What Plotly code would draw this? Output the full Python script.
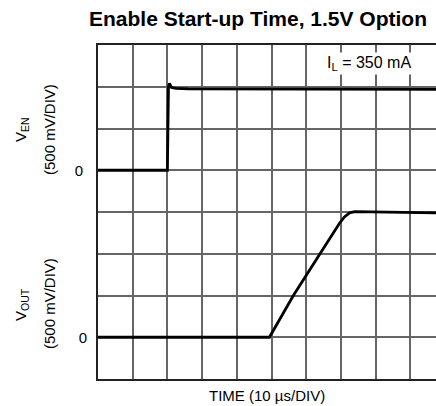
import plotly.graph_objects as go

# Data (time in microseconds, voltage in volts)
ven_time = [0, 10, 20.0, 20.3, 20.6, 21.2, 22.5, 26, 40, 60, 80, 97.5]
ven_volts = [0, 0.0, 0.0, 1.0, 1.04, 0.99, 0.98, 0.975, 0.972, 0.97, 0.97, 0.968]

vout_time = [0, 20, 40, 49.4, 56.3, 64.0, 69.5, 71.0, 72.5, 74.0, 80, 90, 97.5]
vout_volts = [0, 0.0, 0.0, 0.0, 0.5, 1.0, 1.36, 1.44, 1.49, 1.505, 1.5, 1.495, 1.49]

title_text = "Enable Start-up Time, 1.5V Option"
xlabel = "TIME (10 µs/DIV)"
ven_label = "V<sub>EN</sub>"
vout_label = "V<sub>OUT</sub>"
scale_label = "(500 mV/DIV)"
load_label = "I<sub>L</sub> = 350 mA"

FONT = "Liberation Sans, Arial, sans-serif"

fig = go.Figure()
fig.add_trace(go.Scatter(x=ven_time, y=ven_volts, mode="lines",
                         line=dict(color="black", width=2.8), yaxis="y", showlegend=False))
fig.add_trace(go.Scatter(x=vout_time, y=vout_volts, mode="lines",
                         line=dict(color="black", width=2.8), yaxis="y2", showlegend=False))

grid_vals = [-2.5 + 0.5 * i for i in range(9)]
fig.update_layout(
    width=436, height=406,
    margin=dict(l=98, r=0, t=45, b=27),
    paper_bgcolor="white", plot_bgcolor="white",
    font=dict(family=FONT, color="black", size=15),
    xaxis=dict(range=[0, 97.4], tickvals=[10 * i for i in range(10)], showticklabels=False,
               showgrid=True, gridcolor="#666", gridwidth=1.5, zeroline=False,
               showline=True, linecolor="#222", linewidth=2, mirror=True, ticks=""),
    yaxis=dict(range=[-2.5, 1.5], tickvals=grid_vals,
               ticktext=["0" if v == 0 else "" for v in grid_vals],
               showgrid=True, gridcolor="#666", gridwidth=1.5, zeroline=False,
               showline=True, linecolor="#222", linewidth=2, ticks="",
               ticklabelstandoff=10, tickfont=dict(size=15)),
    yaxis2=dict(range=[-0.5, 3.5], overlaying="y", side="left", tickvals=[0], ticktext=["0"],
                showgrid=False, zeroline=False, showline=False, ticks="",
                ticklabelstandoff=10, tickfont=dict(size=15)),
    showlegend=False,
)

fig.add_annotation(text="<b>" + title_text + "</b>", xref="paper", yref="paper",
                   x=(258 - 98) / 338, y=1 + (45 - 19) / 334, xanchor="center", yanchor="middle",
                   showarrow=False, font=dict(size=21, family=FONT))
fig.add_annotation(text=xlabel, xref="paper", yref="paper",
                   x=(267 - 98) / 338, y=-(395 - 379) / 334, xanchor="center", yanchor="middle",
                   showarrow=False, font=dict(size=15, family=FONT))

for lab, xc, yc in [(ven_label, 21, 130), (scale_label, 49, 130),
                    (vout_label, 21, 305), (scale_label, 49, 304)]:
    fig.add_annotation(text=lab, xref="paper", yref="paper",
                       x=(xc - 98) / 338, y=(379 - yc) / 334, xanchor="center", yanchor="middle",
                       textangle=-90, showarrow=False, font=dict(size=15, family=FONT))

fig.add_annotation(text=load_label, xref="paper", yref="paper",
                   x=(369 - 98) / 338, y=(379 - 64) / 334, xanchor="center", yanchor="middle",
                   showarrow=False, bgcolor="white", font=dict(size=16, family=FONT))

fig.write_html("out.html", config={"displayModeBar": False},
               post_script="document.body.style.margin='0';")
